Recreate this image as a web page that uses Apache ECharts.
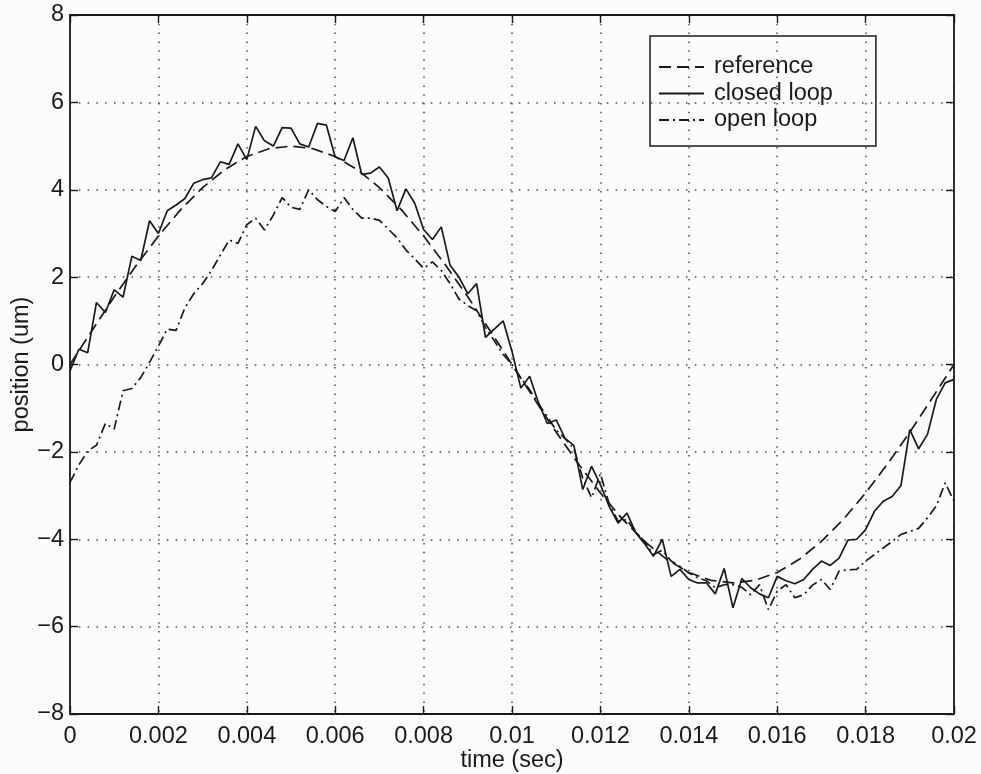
<!DOCTYPE html>
<html>
<head>
<meta charset="utf-8">
<script src="https://cdn.jsdelivr.net/npm/echarts@6/dist/echarts.min.js"></script>
<style>
html,body{margin:0;padding:0;background:#fcfcfa;}
#chart{width:981px;height:774px;}
</style>
</head>
<body>
<div id="chart"></div>
<script>
// sampling step of the measured signals (sec)
const sampleStep = 0.0002;
// closed loop position (um), one value per sample from t=0 to 0.02
const closedLoop = [
 -0.15, 0.35, 0.27, 1.42, 1.19, 1.71, 1.54, 2.48, 2.38, 3.29,
  3.0, 3.52, 3.65, 3.8, 4.15, 4.23, 4.27, 4.64, 4.58, 5.05,
  4.69, 5.45, 5.12, 5.0, 5.42, 5.41, 5.05, 4.98, 5.52, 5.48,
  4.75, 4.67, 5.19, 4.35, 4.38, 4.52, 4.27, 3.52, 4.02, 3.69,
  3.09, 2.86, 3.15, 2.27, 2.0, 1.62, 1.85, 0.62, 0.81, 1.0,
  0.3, -0.54, -0.27, -0.88, -1.35, -1.27, -1.69, -1.85, -2.86, -2.33,
 -2.75, -3.25, -3.63, -3.4, -3.85, -4.1, -4.39, -4.0, -4.85, -4.69,
 -4.92, -5.0, -5.0, -5.25, -4.67, -5.57, -4.9, -5.11, -5.25, -5.34,
 -4.85, -4.95, -5.02, -4.92, -4.69, -4.5, -4.6, -4.43, -4.02, -4.0,
 -3.78, -3.36, -3.13, -3.02, -2.77, -1.49, -1.93, -1.6, -0.8, -0.42,
 -0.34
];
// open loop position (um), same sampling
const openLoop = [
 -2.7, -2.3, -1.98, -1.85, -1.35, -1.48, -0.6, -0.55, -0.3, 0.05,
  0.42, 0.81, 0.78, 1.3, 1.62, 1.85, 2.15, 2.5, 2.85, 2.77,
  3.2, 3.35, 3.08, 3.42, 3.82, 3.6, 3.55, 4.0, 3.77, 3.62,
  3.5, 3.82, 3.55, 3.35, 3.35, 3.3, 3.1, 2.9, 2.62, 2.42,
  2.2, 2.35, 2.15, 1.85, 1.5, 1.35, 1.23, 0.85, 0.54, 0.23,
  0.0, -0.31, -0.58, -0.9, -1.2, -1.5, -1.7, -1.92, -2.6, -3.05,
 -2.5, -3.2, -3.59, -3.55, -3.85, -4.05, -4.35, -4.25, -4.5, -4.62,
 -4.77, -4.88, -4.95, -5.11, -5.04, -5.04, -5.1, -5.27, -5.04, -5.61,
 -5.19, -5.04, -5.34, -5.27, -5.05, -4.92, -5.15, -4.73, -4.7, -4.69,
 -4.5, -4.35, -4.2, -4.05, -3.89, -3.82, -3.75, -3.51, -3.24, -2.71,
 -3.13
];
// reference trajectory (um), read every 0.0005 s
const refStep = 0.0005;
const reference = [
  0, 0.78, 1.55, 2.27, 2.94, 3.54, 4.05, 4.46, 4.76, 4.94,
  5.0, 4.94, 4.76, 4.46, 4.05, 3.54, 2.94, 2.27, 1.55, 0.78,
  0, -0.78, -1.55, -2.27, -2.94, -3.54, -4.05, -4.46, -4.76, -4.94,
 -5.0, -4.94, -4.76, -4.46, -4.05, -3.54, -2.94, -2.27, -1.55, -0.78,
  0
];
const seriesNames = ['reference', 'closed loop', 'open loop'];
const xTitle = 'time (sec)';
const yTitle = 'position (um)';

function pairs(values, step) {
  return values.map((v, i) => [+(i * step).toFixed(5), v]);
}

const ink = '#1a1a1a';
const font = 'Liberation Sans, Arial, Helvetica, sans-serif';
const fs = 23.5;
const gridDots = {show: true, lineStyle: {color: '#4a4a4a', width: 1.5, type: [1.5, 7.3]}};
const frameLine = {show: true, onZero: false, lineStyle: {color: ink, width: 1.8}};
const ticks = {show: true, inside: true, length: 8, lineStyle: {color: ink, width: 1.4}};

const chart = echarts.init(document.getElementById('chart'), null, {renderer: 'canvas'});
chart.setOption({
  backgroundColor: '#fcfcfa',
  animation: false,
  grid: {left: 70, right: 27, top: 15, bottom: 60, containLabel: false, outerBoundsMode: 'none'},
  xAxis: [{
    type: 'value', min: 0, max: 0.02, interval: 0.002,
    name: xTitle, nameLocation: 'middle', nameGap: 35, nameMoveOverlap: false,
    nameTextStyle: {color: ink, fontSize: fs, fontFamily: font},
    axisLine: frameLine, axisTick: ticks,
    axisLabel: {color: ink, fontSize: fs, fontFamily: font, margin: 11,
      formatter: v => String(+v.toFixed(3))},
    splitLine: gridDots
  }, {
    type: 'value', min: 0, max: 0.02, interval: 0.002, position: 'top',
    axisLine: frameLine, axisTick: ticks,
    axisLabel: {show: false}, splitLine: {show: false}
  }],
  yAxis: [{
    type: 'value', min: -8, max: 8, interval: 2,
    name: yTitle, nameLocation: 'middle', nameGap: 36, nameRotate: 90, nameMoveOverlap: false,
    nameTextStyle: {color: ink, fontSize: fs, fontFamily: font},
    axisLine: frameLine, axisTick: ticks,
    axisLabel: {color: ink, fontSize: fs, fontFamily: font, margin: 6,
      formatter: v => String(v).replace('-', '\u2212')},
    splitLine: gridDots
  }, {
    type: 'value', min: -8, max: 8, interval: 2, position: 'right',
    axisLine: frameLine, axisTick: ticks,
    axisLabel: {show: false}, splitLine: {show: false}
  }],
  legend: {
    orient: 'vertical', left: 650, top: 36,
    padding: [19, 43, 14, 8],
    borderColor: ink, borderWidth: 1.5, backgroundColor: 'transparent',
    itemWidth: 45, itemHeight: 20, itemGap: 2.5,
    itemStyle: {color: 'transparent', borderColor: 'transparent', borderWidth: 0, opacity: 0},
    textStyle: {color: ink, fontSize: fs, fontFamily: font, lineHeight: 20, padding: [0, 0, 0, 5]},
    data: seriesNames.map(n => ({name: n}))
  },
  series: [{
    name: seriesNames[0], type: 'line', data: pairs(reference, refStep),
    showSymbol: false, symbol: 'none', smooth: false,
    lineStyle: {color: ink, width: 1.7, type: [12, 6]}, itemStyle: {color: ink}
  }, {
    name: seriesNames[1], type: 'line', data: pairs(closedLoop, sampleStep),
    showSymbol: false, symbol: 'none',
    lineStyle: {color: ink, width: 1.7, type: 'solid'}, itemStyle: {color: ink}
  }, {
    name: seriesNames[2], type: 'line', data: pairs(openLoop, sampleStep),
    showSymbol: false, symbol: 'none',
    lineStyle: {color: ink, width: 1.7, type: [10, 4, 2, 4]}, itemStyle: {color: ink}
  }]
});
</script>
</body>
</html>
